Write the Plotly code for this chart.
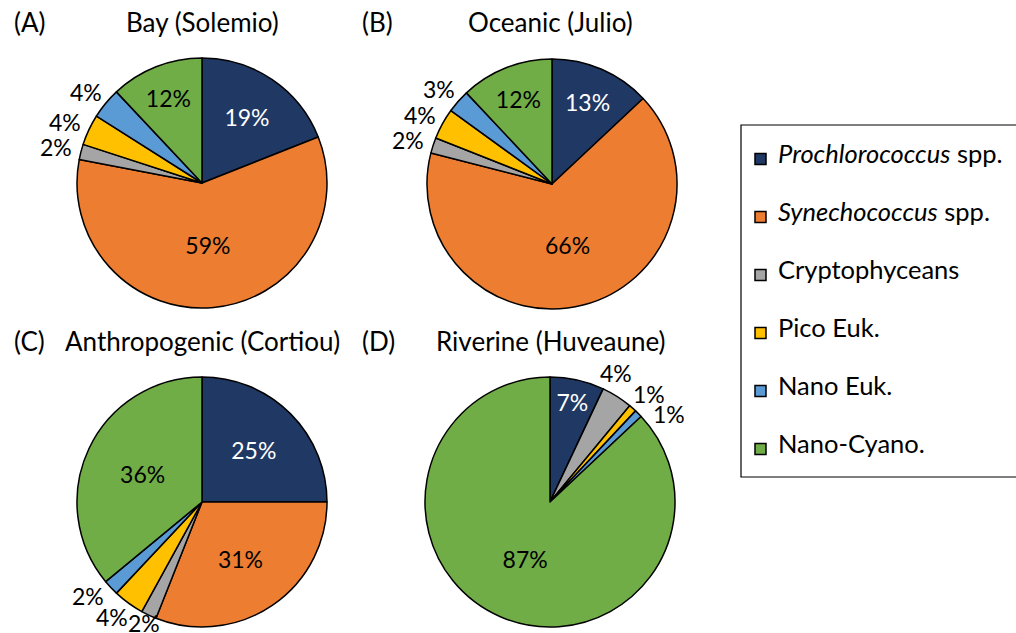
import math
import plotly.graph_objects as go

W, H = 1016, 633

categories = ["<i>Prochlorococcus</i> spp.", "<i>Synechococcus</i> spp.", "Cryptophyceans",
              "Pico Euk.", "Nano Euk.", "Nano-Cyano."]
colors = ["#203864", "#ED7D31", "#A5A5A5", "#FFC000", "#5B9BD5", "#70AD47"]

panel_letters = ["(A)", "(B)", "(C)", "(D)"]
panel_titles = ["Bay (Solemio)", "Oceanic (Julio)", "Anthropogenic (Cortiou)", "Riverine (Huveaune)"]

bay_solemio = [19, 59, 2, 4, 4, 12]
oceanic_julio = [13, 66, 2, 4, 3, 12]
anthropogenic_cortiou = [25, 31, 2, 4, 2, 36]
riverine_huveaune = [7, 0, 4, 1, 1, 87]
series = [bay_solemio, oceanic_julio, anthropogenic_cortiou, riverine_huveaune]

FONT = "Lato"
FS_TITLE = 26
FS_PCT = 23
FS_LEG = 25.5
SMALL = 5  # slices below this share get their label outside

# layout (pixels)
centers = [(202, 183), (552, 184), (202, 502), (550, 502)]
R = 125
letter_pos = [(12, 22), (360, 22), (12, 341), (360, 341)]
title_pos = [(202, 22), (550, 22), (202, 341), (551, 341)]


def px(x):
    return x / W


def py(y):
    return 1 - y / H


fig = go.Figure()
annotations = []

LW, LH = 30, 18      # approx label box used for placement (px)
CW, CH = 32, 20      # box used for collision checks (px)
GAP = 9


def label_xy(cx, cy, th):
    s, c = math.sin(th), math.cos(th)
    lx = cx + (R + GAP) * s + (LW / 2 + 2) * s
    ly = cy - (R + GAP) * c - (LH / 2) * c
    ly = min(ly, H - 10)
    return lx, ly


def overlaps(a, b):
    return (CW - abs(a[0] - b[0]) > 0) and (CH - abs(a[1] - b[1]) > 0)


for vals, (cx, cy) in zip(series, centers):
    pos, tcol = [], []
    for i, v in enumerate(vals):
        pos.append("inside" if v >= SMALL else "none")
        tcol.append("white" if i == 0 else "black")
    fig.add_trace(go.Pie(
        labels=categories,
        values=vals,
        sort=False,
        direction="clockwise",
        rotation=0,
        marker=dict(colors=colors, line=dict(color="black", width=1.5)),
        texttemplate="%{value}%",
        textposition=pos,
        insidetextorientation="horizontal",
        insidetextfont=dict(color=tcol, size=FS_PCT, family=FONT),
        domain=dict(x=[px(cx - R), px(cx + R)], y=[py(cy + R), py(cy - R)]),
        showlegend=False,
        hoverinfo="label+value",
    ))

    # outside labels for small slices, from the slice mid-angles,
    # spread apart along the circle when they collide
    total = float(sum(vals))
    cum = 0.0
    labs = []
    for v in vals:
        start = cum
        cum += v
        if v <= 0 or v >= SMALL:
            continue
        labs.append([2 * math.pi * (start + v / 2) / total, v])
    step = math.radians(0.25)
    for _ in range(600):
        moved = False
        for k in range(len(labs) - 1):
            a = label_xy(cx, cy, labs[k][0])
            b = label_xy(cx, cy, labs[k + 1][0])
            if overlaps(a, b):
                labs[k][0] -= step
                labs[k + 1][0] += step
                moved = True
        if not moved:
            break
    for th, v in labs:
        lx, ly = label_xy(cx, cy, th)
        annotations.append(dict(text=f"{v}%", x=px(lx), y=py(ly), xref="paper", yref="paper",
                                xanchor="center", yanchor="middle", showarrow=False,
                                font=dict(size=FS_PCT, family=FONT, color="black")))

for t, (x, y) in zip(panel_letters, letter_pos):
    annotations.append(dict(text=t, x=px(x), y=py(y), xref="paper", yref="paper",
                            xanchor="left", yanchor="middle", showarrow=False,
                            font=dict(size=FS_TITLE, family=FONT, color="black")))
for t, (x, y) in zip(panel_titles, title_pos):
    annotations.append(dict(text=t, x=px(x), y=py(y), xref="paper", yref="paper",
                            xanchor="center", yanchor="middle", showarrow=False,
                            font=dict(size=FS_TITLE, family=FONT, color="black")))

shapes = [dict(type="rect", xref="paper", yref="paper",
               x0=px(741), x1=px(1030), y0=py(477), y1=py(125),
               line=dict(color="black", width=1.2), fillcolor="rgba(0,0,0,0)")]

for i, (lab, col) in enumerate(zip(categories, colors)):
    yc = 153 + 58 * i
    sq = 159 + 58 * i
    shapes.append(dict(type="rect", xref="paper", yref="paper",
                       x0=px(755), x1=px(766), y0=py(sq + 5.5), y1=py(sq - 5.5),
                       line=dict(color="black", width=1.5), fillcolor=col))
    annotations.append(dict(text=lab, x=px(776), y=py(yc), xref="paper", yref="paper",
                            xanchor="left", yanchor="middle", showarrow=False,
                            font=dict(size=FS_LEG, family=FONT, color="black")))

fig.update_layout(
    width=W, height=H,
    margin=dict(l=0, r=0, t=0, b=0),
    paper_bgcolor="white",
    plot_bgcolor="white",
    annotations=annotations,
    shapes=shapes,
    font=dict(family=FONT, size=FS_PCT, color="black"),
)

fig.write_html("out.html",
               config={"displayModeBar": False},
               post_script="document.body.style.margin='0px';document.body.style.overflow='hidden';")
